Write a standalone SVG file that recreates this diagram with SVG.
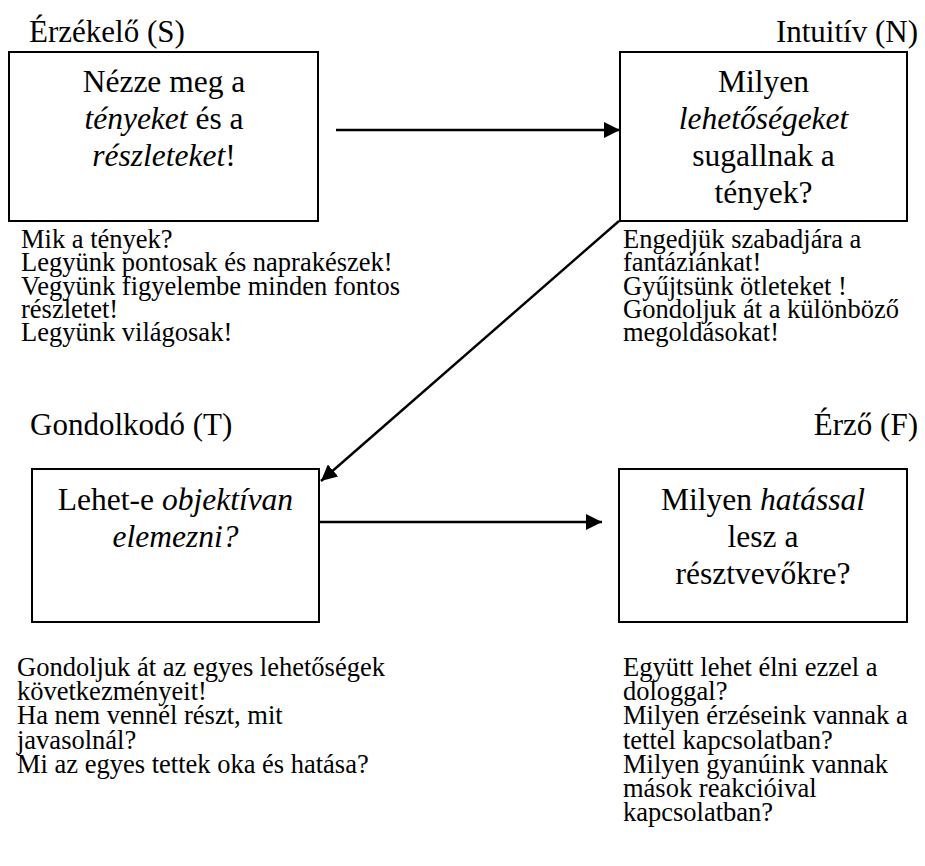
<svg xmlns="http://www.w3.org/2000/svg" width="925" height="866" viewBox="0 0 925 866">
<style>
text{font-family:"Liberation Serif","Times New Roman",serif;fill:#000}
.lbl{font-size:31px}
.box{font-size:31.5px;text-anchor:middle}
.body{font-size:26.5px}
.i{font-style:italic}
rect{fill:#fff;stroke:#000;stroke-width:2}
.conn line{stroke:#000;stroke-width:2.4}
</style>
<defs>
<marker id="ah" viewBox="0 0 16 16" refX="16" refY="8" markerWidth="16" markerHeight="16" markerUnits="userSpaceOnUse" orient="auto">
<path d="M0,0 L16,8 L0,16 Z" fill="#000"/>
</marker>
</defs>
<rect x="0" y="0" width="925" height="866" style="fill:#fff;stroke:none"/>
<g id="node-S">
<text class="lbl" x="29" y="42">Érzékelő (S)</text>
<rect x="9" y="52" width="309" height="169"/>
<text class="box"><tspan x="164" y="92">Nézze meg a</tspan><tspan x="164" y="129"><tspan class="i">tényeket</tspan> és a</tspan><tspan x="164" y="166"><tspan class="i">részleteket</tspan>!</tspan></text>
<text class="body"><tspan x="21" y="248">Mik a tények?</tspan><tspan x="21" y="271.3">Legyünk pontosak és naprakészek!</tspan><tspan x="21" y="294.6">Vegyünk figyelembe minden fontos</tspan><tspan x="21" y="317.9">részletet!</tspan><tspan x="21" y="341.2">Legyünk világosak!</tspan></text>
</g>
<g id="node-N">
<text class="lbl" x="918" y="42" text-anchor="end">Intuitív (N)</text>
<rect x="620" y="52" width="287" height="169"/>
<text class="box"><tspan x="763.5" y="92">Milyen</tspan><tspan x="763.5" y="129" class="i">lehetőségeket</tspan><tspan x="763.5" y="166">sugallnak a</tspan><tspan x="763.5" y="203">tények?</tspan></text>
<text class="body"><tspan x="623" y="248">Engedjük szabadjára a</tspan><tspan x="623" y="271.3">fantáziánkat!</tspan><tspan x="623" y="294.6">Gyűjtsünk ötleteket !</tspan><tspan x="623" y="317.9">Gondoljuk át a különböző</tspan><tspan x="623" y="341.2">megoldásokat!</tspan></text>
</g>
<g id="node-T">
<text class="lbl" x="30" y="435">Gondolkodó (T)</text>
<rect x="32" y="469" width="287" height="153"/>
<text class="box"><tspan x="175.5" y="510">Lehet-e <tspan class="i">objektívan</tspan></tspan><tspan x="175.5" y="547" class="i">elemezni?</tspan></text>
<text class="body"><tspan x="17" y="676">Gondoljuk át az egyes lehetőségek</tspan><tspan x="17" y="700.2">következményeit!</tspan><tspan x="17" y="724.4">Ha nem vennél részt, mit</tspan><tspan x="17" y="748.6">javasolnál?</tspan><tspan x="17" y="772.8">Mi az egyes tettek oka és hatása?</tspan></text>
</g>
<g id="node-F">
<text class="lbl" x="918" y="435" text-anchor="end">Érző (F)</text>
<rect x="619" y="469" width="288" height="153"/>
<text class="box"><tspan x="763" y="510">Milyen <tspan class="i">hatással</tspan></tspan><tspan x="763" y="547">lesz a</tspan><tspan x="763" y="584">résztvevőkre?</tspan></text>
<text class="body"><tspan x="623" y="676">Együtt lehet élni ezzel a</tspan><tspan x="623" y="700.2">dologgal?</tspan><tspan x="623" y="724.4">Milyen érzéseink vannak a</tspan><tspan x="623" y="748.6">tettel kapcsolatban?</tspan><tspan x="623" y="772.8">Milyen gyanúink vannak</tspan><tspan x="623" y="797">mások reakcióival</tspan><tspan x="623" y="821.2">kapcsolatban?</tspan></text>
</g>
<g id="connectors" class="conn">
<line x1="336" y1="130" x2="620" y2="130" marker-end="url(#ah)"/>
<line x1="619" y1="221" x2="321" y2="481" marker-end="url(#ah)"/>
<line x1="319" y1="522" x2="602" y2="522" marker-end="url(#ah)"/>
</g>
</svg>
